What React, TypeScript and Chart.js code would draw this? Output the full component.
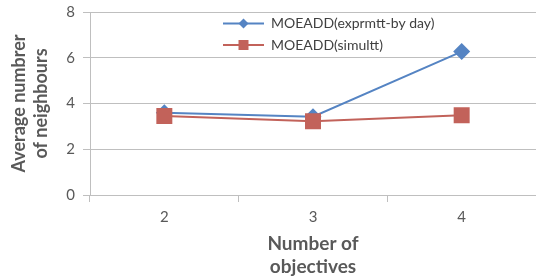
import React, { useEffect, useRef } from "react";
import { Chart, registerables } from "chart.js";

Chart.register(...registerables);

const categories = ["2", "3", "4"];
const seriesExprNames = "MOEADD(exprmtt-by day)";
const seriesSimNames = "MOEADD(simultt)";
const exprValues = [3.6, 3.42, 6.27];
const simValues = [3.45, 3.22, 3.49];
const yTickMin = 0;
const yTickMax = 8;
const yTickStep = 2;

const BLUE = "#5584C3";
const RED = "#C2625A";
const FONT = "Lato, 'Open Sans', sans-serif";

const legendPlugin = {
  id: "excelLegend",
  afterDraw(chart: any) {
    const ctx = chart.ctx;
    const a = chart.chartArea;
    const x0 = a.left + 133;
    const rows = [
      { y: a.top + 11.5, color: BLUE, shape: "diamond", text: seriesExprNames },
      { y: a.top + 33, color: RED, shape: "square", text: seriesSimNames },
    ];
    ctx.save();
    rows.forEach((r) => {
      ctx.strokeStyle = r.color;
      ctx.lineWidth = 2;
      ctx.beginPath();
      ctx.moveTo(x0, r.y);
      ctx.lineTo(x0 + 41, r.y);
      ctx.stroke();
      ctx.fillStyle = r.color;
      const cx = x0 + 20.5;
      ctx.beginPath();
      if (r.shape === "diamond") {
        ctx.moveTo(cx - 5, r.y);
        ctx.lineTo(cx, r.y - 5);
        ctx.lineTo(cx + 5, r.y);
        ctx.lineTo(cx, r.y + 5);
        ctx.closePath();
      } else {
        ctx.rect(cx - 5, r.y - 5, 10, 10);
      }
      ctx.fill();
      ctx.fillStyle = "#404040";
      ctx.font = "14px " + FONT;
      ctx.textAlign = "left";
      ctx.textBaseline = "middle";
      ctx.fillText(r.text, x0 + 48, r.y);
    });
    ctx.restore();
  },
};

export default function App() {
  const ref = useRef<HTMLCanvasElement | null>(null);
  useEffect(() => {
    document.body.style.margin = "0";
    const chart = new Chart(ref.current as HTMLCanvasElement, {
      type: "line",
      data: {
        labels: categories,
        datasets: [
          {
            label: seriesExprNames,
            data: exprValues,
            borderColor: BLUE,
            backgroundColor: BLUE,
            borderWidth: 2,
            pointStyle: "rectRot",
            pointRadius: 8.5,
            pointBorderWidth: 0,
            pointBackgroundColor: BLUE,
            order: 1,
          },
          {
            label: seriesSimNames,
            data: simValues,
            borderColor: RED,
            backgroundColor: RED,
            borderWidth: 2,
            pointStyle: "rect",
            pointRadius: 11.3,
            pointBorderWidth: 0,
            pointBackgroundColor: RED,
            order: 0,
          },
        ],
      },
      options: {
        animation: false,
        responsive: false,
        layout: { autoPadding: false, padding: { top: 12, right: 0, left: 0, bottom: 0 } },
        plugins: {
          legend: { display: false },
          tooltip: { enabled: false },
        },
        scales: {
          x: {
            offset: true,
            grid: {
              offset: true,
              drawOnChartArea: false,
              drawTicks: true,
              tickLength: 7,
              color: "#bfbfbf",
            },
            border: { color: "#bfbfbf", width: 1 },
            ticks: {
              color: "#595959",
              font: { family: FONT, size: 15 },
              padding: 6,
            },
            title: {
              display: true,
              text: ["Number of", "objectives"],
              color: "#595959",
              font: { family: FONT, size: 19, weight: "bold", lineHeight: 1.21 },
              padding: { top: 0, bottom: 2 },
            },
            afterFit(scale: any) {
              scale.height = 85;
              scale.paddingLeft = 0;
              scale.paddingRight = 0;
            },
          },
          y: {
            min: yTickMin,
            max: yTickMax,
            grid: {
              color: "#bfbfbf",
              drawTicks: true,
              tickLength: 7,
            },
            border: { color: "#bfbfbf", width: 1 },
            ticks: {
              stepSize: yTickStep,
              color: "#595959",
              font: { family: FONT, size: 15 },
              padding: 8,
            },
            title: {
              display: true,
              text: ["Average numbrer", "of neighbours"],
              color: "#595959",
              font: { family: FONT, size: 18, weight: "bold", lineHeight: 1.22 },
              padding: { top: 8, bottom: 0 },
            },
            afterFit(scale: any) {
              scale.width = 90;
              scale.paddingTop = 0;
              scale.paddingBottom = 0;
            },
          },
        },
      },
      plugins: [legendPlugin],
    });
    return () => chart.destroy();
  }, []);
  return (
    <canvas ref={ref} width={536} height={280} style={{ display: "block" }} />
  );
}
